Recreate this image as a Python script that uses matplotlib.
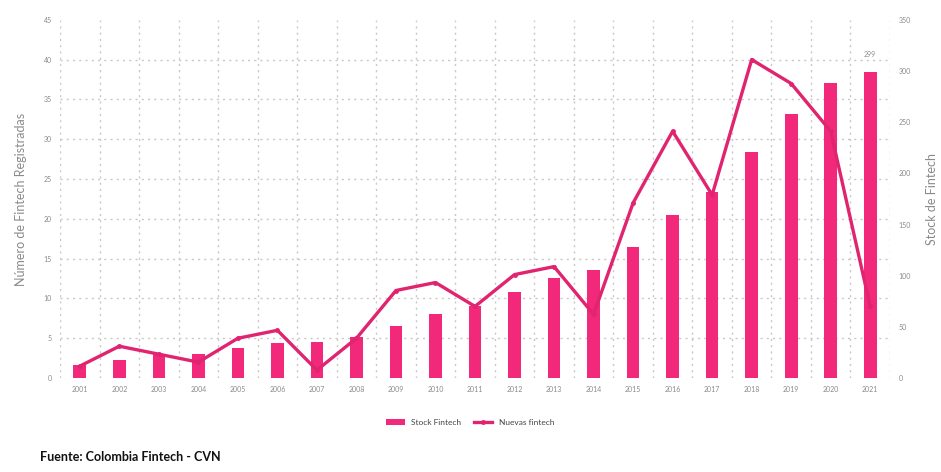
import numpy as np
import matplotlib
matplotlib.use("Agg")
import matplotlib.pyplot as plt

years = ['2001', '2002', '2003', '2004', '2005', '2006', '2007', '2008', '2009', '2010', '2011',
         '2012', '2013', '2014', '2015', '2016', '2017', '2018', '2019', '2020', '2021']
stock_fintech = [13, 18, 24, 24, 29, 34, 35, 40, 51, 63, 70, 84, 98, 106, 128, 159, 182, 221, 258, 288, 299]
nuevas_fintech = [1.5, 4, 3, 2, 5, 6, 1, 5, 11, 12, 9, 13, 14, 8, 22, 31, 23, 40, 37, 31, 9]

bar_color = '#F2297B'
line_color = '#E0246F'
grid_color = '#C8C8C8'
text_gray = '#8A8A8A'

plt.rcParams['font.family'] = ['Lato', 'DejaVu Sans']

fig = plt.figure(figsize=(9.41, 4.72), dpi=100)
ax = fig.add_axes([0.0638, 0.199, 0.882, 0.759])
ax2 = ax.twinx()

x = np.arange(len(years))

# bars (right axis)
ax2.bar(x, stock_fintech, width=0.32, color=bar_color, label='Stock Fintech', zorder=3)
ax2.set_ylim(0, 350)
ax2.set_yticks(np.arange(0, 351, 50))
ax2.text(x[-1], stock_fintech[-1] + 14, str(stock_fintech[-1]), ha='center', va='bottom',
         fontsize=5, color=text_gray)

# horizontal grid drawn on the bar axis so it sits behind the bars
ax2.set_yticks(np.linspace(0, 350, 10), minor=True)
ax2.grid(which='minor', axis='y', linestyle=(0, (1.5, 3)), color=grid_color, linewidth=1)
ax2.tick_params(which='minor', length=0)
ax2.set_axisbelow(True)

# line (left axis)
ax.plot(x, nuevas_fintech, color=line_color, linewidth=2.4, marker='o', markersize=2.5,
        label='Nuevas fintech', zorder=4)
ax.set_ylim(0, 45)
ax.set_yticks(np.arange(0, 46, 5))
ax.set_xlim(-0.5, len(years) - 0.5)
ax.set_xticks(x)
ax.set_xticklabels(years)
# vertical grid between categories
ax.set_xticks(np.arange(-0.5, len(years), 1.0), minor=True)
ax.grid(which='minor', axis='x', linestyle=(0, (1.5, 3)), color=grid_color, linewidth=1, zorder=0)
ax.tick_params(which='minor', length=0)
ax.set_zorder(ax2.get_zorder() + 1)
ax.patch.set_visible(False)

for a in (ax, ax2):
    for s in a.spines.values():
        s.set_visible(False)
    a.tick_params(which='major', length=0, labelsize=5, labelcolor=text_gray, pad=6)

ax.set_ylabel('Número de Fintech Registradas', fontsize=9, color=text_gray, labelpad=12)
ax2.set_ylabel('Stock de Fintech', fontsize=9, color=text_gray, labelpad=11)

h1, l1 = ax2.get_legend_handles_labels()
h2, l2 = ax.get_legend_handles_labels()
fig.legend(h1 + h2, l1 + l2, loc='center', bbox_to_anchor=(0.5, 0.105), ncol=2,
           frameon=False, fontsize=6, handlelength=2.2, handleheight=0.7, columnspacing=1.5,
           labelcolor='#444444')

fig.text(0.042, 0.02, 'Fuente: Colombia Fintech - CVN', fontsize=9, fontweight='bold',
         color='#111111', ha='left', va='bottom')

fig.savefig('out.png', dpi=100)
